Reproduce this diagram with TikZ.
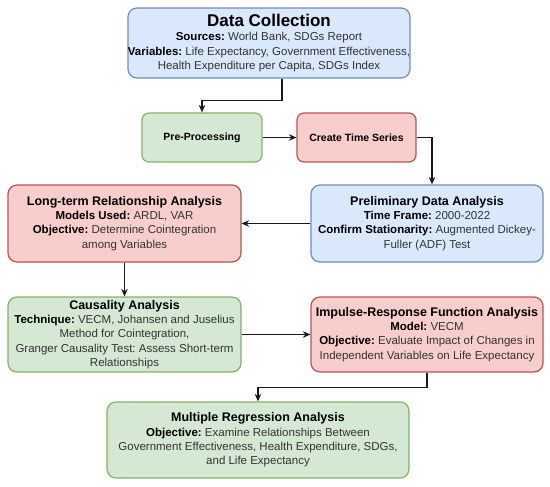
\documentclass[tikz,border=0pt]{standalone}
\usepackage{fontspec}
\setmainfont{Liberation Sans}
\usetikzlibrary{arrows.meta}
\frenchspacing
\definecolor{bluefill}{HTML}{DAE8FC}
\definecolor{bluedraw}{HTML}{6C8EBF}
\definecolor{greenfill}{HTML}{D5E8D4}
\definecolor{greendraw}{HTML}{82B366}
\definecolor{redfill}{HTML}{F8CECC}
\definecolor{reddraw}{HTML}{B85450}
\definecolor{bodytext}{HTML}{333333}
\newcommand{\ttl}[1]{{\fontsize{12.5}{15}\selectfont\bfseries\color{black}#1}}
\newcommand{\lbl}[1]{{\bfseries\color{black}#1}}
\tikzset{
  box/.style={rounded corners=9pt, line width=1.2pt, align=center, inner sep=0pt,
    font=\fontsize{11.5}{14.3}\selectfont\frenchspacing, text=bodytext},
  bluebox/.style={box, fill=bluefill, draw=bluedraw},
  greenbox/.style={box, fill=greenfill, draw=greendraw},
  redbox/.style={box, fill=redfill, draw=reddraw},
  arr/.style={line width=1.3pt, draw=black!90, -{Stealth[length=7.5pt,width=6.5pt]}},
}
\begin{document}
\begin{tikzpicture}[x=1pt,y=-1pt]
\useasboundingbox (0,0) rectangle (550,487);
\node[bluebox, minimum width=282pt, minimum height=70pt] (dc) at (269,43)
  {{\fontsize{17}{19}\selectfont\bfseries\color{black}Data Collection}\\
   \lbl{Sources:} World Bank, SDGs Report\\
   \lbl{Variables:} Life Expectancy, Government Effectiveness,\\
   Health Expenditure per Capita, SDGs Index};
\node[greenbox, rounded corners=7pt, minimum width=120pt, minimum height=49pt] (pp) at (202,137.5)
  {\fontsize{10.5}{13}\selectfont\bfseries\color{black}Pre-Processing};
\node[redbox, rounded corners=7pt, minimum width=119pt, minimum height=49pt] (cts) at (356.5,137.5)
  {\fontsize{10.5}{13}\selectfont\bfseries\color{black}Create Time Series};
\node[bluebox, minimum width=232pt, minimum height=77pt] (pda) at (427,223.5)
  {\ttl{Preliminary Data Analysis}\\
   \lbl{Time Frame:} 2000-2022\\
   \lbl{Confirm Stationarity:} Augmented Dickey-\\
   Fuller (ADF) Test};
\node[redbox, minimum width=233pt, minimum height=77pt] (lt) at (124.5,223.5)
  {\ttl{Long-term Relationship Analysis}\\
   \lbl{Models Used:} ARDL, VAR\\
   \lbl{Objective:} Determine Cointegration\\
   among Variables};
\node[greenbox, minimum width=233pt, minimum height=75pt] (ca) at (124.5,334.5)
  {\ttl{Causality Analysis}\\
   \lbl{Technique:} VECM, Johansen and Juselius\\
   Method for Cointegration,\\
   Granger Causality Test: Assess Short-term\\
   Relationships};
\node[redbox, minimum width=232pt, minimum height=75pt] (irf) at (427,334.5)
  {\ttl{Impulse-Response Function Analysis}\\
   \lbl{Model:} VECM\\
   \lbl{Objective:} Evaluate Impact of Changes in\\
   Independent Variables on Life Expectancy};
\node[greenbox, minimum width=302pt, minimum height=76pt] (mr) at (258,440)
  {\ttl{Multiple Regression Analysis}\\
   \lbl{Objective:} Examine Relationships Between\\
   Government Effectiveness, Health Expenditure, SDGs,\\
   and Life Expectancy};
\draw[arr] ([xshift=13pt]dc.south) -- ++(0,22) -| (pp.north);
\draw[arr] (pp.east) -- (cts.west);
\draw[arr] (cts.east) -| ([xshift=5pt]pda.north);
\draw[arr] (pda.west) -- (lt.east);
\draw[arr] (lt.south) -- (ca.north);
\draw[arr] (ca.east) -- (irf.west);
\draw[arr] (irf.south) -- ++(0,15) -| (mr.north);
\end{tikzpicture}
\end{document}
